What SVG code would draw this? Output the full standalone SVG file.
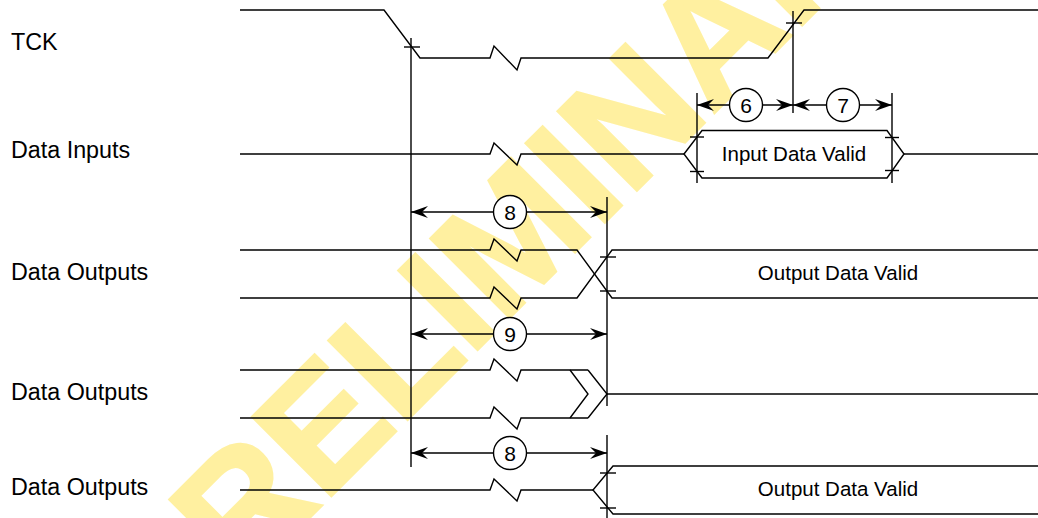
<svg xmlns="http://www.w3.org/2000/svg" width="1038" height="518" viewBox="0 0 1038 518">
<defs>
<style>
.w{fill:none;stroke:#000;stroke-width:1.4;stroke-linejoin:miter}
.lbl{font-family:"Liberation Sans",Arial,sans-serif;font-size:23.3px;fill:#000}
.in{font-family:"Liberation Sans",Arial,sans-serif;font-size:20.5px;fill:#000;text-anchor:middle}
.num{font-family:"Liberation Sans",Arial,sans-serif;font-size:21px;fill:#000;text-anchor:middle}
.c{fill:#fff;stroke:#000;stroke-width:1.4}
.wm{font-family:"Liberation Sans",Arial,sans-serif;font-weight:bold;font-size:162px;fill:#FFF0A0;stroke:#FFF0A0;stroke-width:3;text-anchor:middle}
</style>
<marker id="ah" viewBox="0 0 18 12" refX="17" refY="6" markerWidth="18" markerHeight="12" markerUnits="userSpaceOnUse" orient="auto-start-reverse">
<path d="M17,6 L0,0 L6,6 L0,12 Z" fill="#000"/>
</marker>
</defs>
<rect width="1038" height="518" fill="#fff"/>
<g id="watermark">
<text class="wm" transform="translate(557,270) rotate(-45)">PRELIMINARY</text>
</g>
<g id="labels">
<text class="lbl" x="11" y="50">TCK</text>
<text class="lbl" x="11" y="158">Data Inputs</text>
<text class="lbl" x="11" y="280">Data Outputs</text>
<text class="lbl" x="11" y="400">Data Outputs</text>
<text class="lbl" x="11" y="495">Data Outputs</text>
</g>
<g id="tck">
<polyline class="w" points="240,10 384,10 420,58 490,58 494,46 517,70 521,58 768,58 804,10 1038,10"/>
</g>
<g id="data-inputs">
<polyline class="w" points="240,154 490,154 494,143 517,165 521,154 684,154"/>
<polygon class="w" points="684,154 702,130.5 887,130.5 904,154 887,178 702,178"/>
<line class="w" x1="904" y1="154" x2="1038" y2="154"/>
<text class="in" x="794" y="161">Input Data Valid</text>
</g>
<g id="data-outputs-1">
<polyline class="w" points="240,250 490,250 494,239 517,261 521,250 577,250 612,298 1038,298"/>
<polyline class="w" points="240,298 490,298 494,287 517,309 521,298 577,298 612,250 1038,250"/>
<text class="in" x="838" y="280">Output Data Valid</text>
</g>
<g id="data-outputs-2">
<polyline class="w" points="240,370 490,370 494,359 517,381 521,370 588,370"/>
<polyline class="w" points="240,418 490,418 494,407 517,429 521,418 588,418"/>
<polyline class="w" points="570,370 588,394 570,418"/>
<polyline class="w" points="588,370 607,394 588,418"/>
<line class="w" x1="607" y1="394" x2="1038" y2="394"/>
</g>
<g id="data-outputs-3">
<polyline class="w" points="240,490 490,490 494,479 517,501 521,490 593,490"/>
<polyline class="w" points="1038,466 613,466 593,490 613,514 1038,514"/>
<text class="in" x="838" y="496">Output Data Valid</text>
</g>
<g id="connectors">
<line class="w" x1="411" y1="38" x2="411" y2="467"/>
<line class="w" x1="404" y1="47" x2="420" y2="47"/>
<line class="w" x1="793" y1="11" x2="793" y2="113"/>
<line class="w" x1="786" y1="23" x2="802" y2="23"/>
<line class="w" x1="697" y1="93" x2="697" y2="183"/>
<line class="w" x1="892" y1="93" x2="892" y2="183"/>
<line class="w" x1="690" y1="137" x2="704" y2="137"/>
<line class="w" x1="690" y1="171.5" x2="704" y2="171.5"/>
<line class="w" x1="885" y1="137.5" x2="899" y2="137.5"/>
<line class="w" x1="885" y1="170.5" x2="899" y2="170.5"/>
<line class="w" x1="607" y1="197" x2="607" y2="406"/>
<line class="w" x1="607" y1="435" x2="607" y2="518"/>
<line class="w" x1="600" y1="257" x2="616" y2="257"/>
<line class="w" x1="600" y1="291" x2="616" y2="291"/>
<line class="w" x1="600" y1="473" x2="616" y2="473"/>
<line class="w" x1="600" y1="508" x2="616" y2="508"/>
<line class="w" x1="697" y1="105" x2="793" y2="105" marker-start="url(#ah)" marker-end="url(#ah)"/>
<line class="w" x1="793" y1="105" x2="892" y2="105" marker-start="url(#ah)" marker-end="url(#ah)"/>
<line class="w" x1="411" y1="212" x2="607" y2="212" marker-start="url(#ah)" marker-end="url(#ah)"/>
<line class="w" x1="411" y1="334" x2="607" y2="334" marker-start="url(#ah)" marker-end="url(#ah)"/>
<line class="w" x1="411" y1="453" x2="607" y2="453" marker-start="url(#ah)" marker-end="url(#ah)"/>
</g>
<g id="dim-labels">
<circle class="c" cx="746" cy="105" r="16.5"/><text class="num" x="746" y="112.5">6</text>
<circle class="c" cx="843" cy="105" r="16.5"/><text class="num" x="843" y="112.5">7</text>
<circle class="c" cx="510" cy="212" r="16.5"/><text class="num" x="510" y="219.5">8</text>
<circle class="c" cx="510" cy="334" r="16.5"/><text class="num" x="510" y="341.5">9</text>
<circle class="c" cx="510" cy="453" r="16.5"/><text class="num" x="510" y="460.5">8</text>
</g>
</svg>
